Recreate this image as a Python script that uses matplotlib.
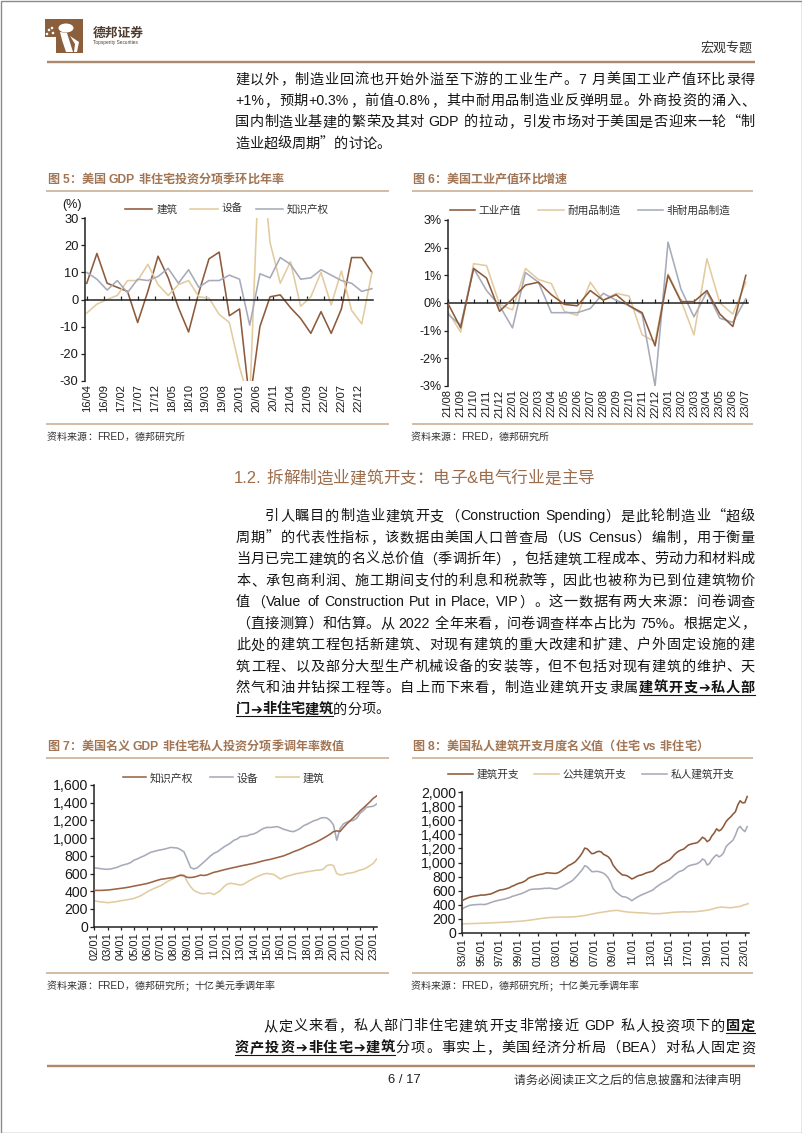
import numpy as np
import matplotlib
matplotlib.use('Agg')
import matplotlib.pyplot as plt
from matplotlib import font_manager
from matplotlib.font_manager import FontProperties
from matplotlib.ft2font import FT2Font, LoadFlags
from matplotlib.patches import Polygon, Ellipse, Rectangle
from matplotlib.lines import Line2D

plt.rcParams['axes.unicode_minus'] = False

W, H = 802, 1133

# ---------------------------------------------------------------- data
# Fig 5: quarterly, 2016Q2 .. 2023Q2 (x in months since 16/04)
f5_labels = ['16/04', '16/09', '17/02', '17/07', '17/12', '18/05', '18/10', '19/03',
             '19/08', '20/01', '20/06', '20/11', '21/04', '21/09', '22/02', '22/07', '22/12']
f5_construction = [6, 17, 6, 4.5, 3, -8.5, 3, 16, 8, -3, -12, 2.5, 15, 17.5, -6, -3.5,
                   -38, -10, 1, 1.7, -3, -7, -12.5, -4.5, -12.5, -3.5, 15.5, 15.5, 10]
f5_equipment = [-5, -1.7, 0, 1.5, 7, 7, 13, 5.5, 1.5, 5.5, 7, 1, 0.5, -5.5, -8.5, -25,
                -38, 60, 21, 6, 14, -2.5, 1, 10, -2, 10.5, -4, -9, 10]
f5_ipp = [10, 7.5, 3.5, 7, 2.5, 7.5, 7, 8.5, 11.5, 6, 11, 4.5, 7, 7, 9, 7.5,
          -9.5, 9.5, 8, 15.5, 13, 7.5, 8, 11, 9, 7, 6, 3, 4]

# Fig 6: monthly 21/08 .. 23/07, % m/m
f6_labels = ['21/08', '21/09', '21/10', '21/11', '21/12', '22/01', '22/02', '22/03',
             '22/04', '22/05', '22/06', '22/07', '22/08', '22/09', '22/10', '22/11',
             '22/12', '23/01', '23/02', '23/03', '23/04', '23/05', '23/06', '23/07']
f6_ip = [0.0, -0.9, 1.25, 0.9, -0.3, 0.15, 0.65, 0.75, 0.3, -0.05, -0.1, 0.45,
         0.1, 0.3, -0.1, -0.35, -1.55, 1.0, 0.05, 0.05, 0.45, -0.4, -0.85, 1.0]
f6_durable = [-0.3, -1.05, 1.42, 1.35, -0.05, -0.25, 1.25, 0.85, 0.7, -0.3, -0.45, 0.75,
              0.1, 0.35, 0.25, -1.15, -1.4, 1.05, 0.1, -1.15, 1.6, 0.0, -0.4, 0.75]
f6_nondurable = [-0.4, -0.8, 1.25, 0.45, -0.1, -0.9, 1.1, 0.75, -0.35, -0.35, -0.35, -0.2,
                 0.35, 0.1, -0.1, -0.4, -3.0, 2.2, 0.5, -0.5, 0.4, -0.55, -0.7, 0.15]

# Fig 7: quarterly 2002Q1 .. 2023Q2, bn USD SAAR
f7_labels = ['02/01', '03/01', '04/01', '05/01', '06/01', '07/01', '08/01', '09/01',
             '10/01', '11/01', '12/01', '13/01', '14/01', '15/01', '16/01', '17/01',
             '18/01', '19/01', '20/01', '21/01', '22/01', '23/01']
f7_ipp = [410, 410, 410, 412, 414, 418, 423, 428, 433, 438, 444, 451,
          459, 466, 473, 481, 489, 500, 512, 524, 535, 540, 546, 552,
          557, 570, 580, 575, 557, 555, 560, 570, 583, 578, 585, 600,
          614, 622, 632, 642, 651, 660, 668, 676, 685, 693, 700, 708,
          715, 725, 735, 745, 753, 760, 770, 780, 790, 800, 815, 830,
          847, 860, 875, 892, 911, 925, 942, 960, 979, 1000, 1022, 1045,
          1073, 1082, 1075, 1120, 1160, 1195, 1230, 1268, 1306, 1340, 1375, 1410,
          1450, 1476]
f7_equipment = [666, 660, 655, 650, 648, 652, 662, 672, 689, 700, 710, 725,
                753, 765, 785, 800, 820, 840, 850, 860, 868, 875, 885, 895,
                892, 888, 870, 845, 760, 668, 652, 665, 697, 730, 765, 800,
                828, 845, 872, 900, 922, 945, 975, 990, 1017, 1020, 1025, 1040,
                1047, 1065, 1090, 1110, 1122, 1120, 1125, 1130, 1118, 1100, 1090, 1078,
                1073, 1090, 1110, 1140, 1156, 1175, 1195, 1205, 1224, 1232, 1228, 1200,
                1150, 975, 1110, 1160, 1180, 1195, 1200, 1225, 1280, 1310, 1350, 1355,
                1360, 1385]
f7_structures = [294, 285, 280, 276, 271, 275, 280, 286, 294, 298, 305, 312,
                 320, 335, 350, 372, 395, 415, 432, 448, 463, 485, 510, 530,
                 546, 570, 590, 582, 508, 450, 410, 390, 376, 372, 378, 380,
                 362, 385, 410, 450, 480, 490, 485, 478, 470, 480, 505, 525,
                 546, 565, 580, 595, 602, 595, 590, 565, 538, 555, 570, 580,
                 591, 600, 605, 612, 621, 625, 632, 638, 640, 650, 690, 700,
                 690, 600, 585, 588, 602, 605, 612, 625, 640, 648, 665, 690,
                 715, 764]

# Fig 8: total & private quarterly 1993Q1 .. 2023Q2, public semi-annual
f8_labels = ['93/01', '95/01', '97/01', '99/01', '01/01', '03/01', '05/01', '07/01',
             '09/01', '11/01', '13/01', '15/01', '17/01', '19/01', '21/01', '23/01']
f8_total = [456, 475, 490, 505, 513, 520, 525, 530, 537, 535, 540, 546,
            551, 565, 580, 595, 608, 612, 620, 630, 641, 660, 672, 690,
            703, 712, 725, 745, 774, 790, 800, 812, 822, 830, 835, 845,
            855, 850, 848, 845, 846, 860, 880, 905, 926, 955, 970, 990,
            1012, 1050, 1090, 1140, 1205, 1195, 1160, 1125, 1131, 1150, 1160, 1150,
            1116, 1100, 1080, 1040, 964, 920, 880, 850, 822, 820, 810, 790,
            765, 780, 800, 815, 822, 835, 850, 860, 869, 880, 910, 940,
            964, 985, 1000, 1020, 1036, 1070, 1110, 1140, 1164, 1180, 1190, 1220,
            1249, 1260, 1270, 1275, 1287, 1320, 1360, 1340, 1297, 1320, 1380, 1420,
            1480, 1450, 1470, 1520, 1582, 1620, 1650, 1690, 1724, 1820, 1880, 1850,
            1853, 1940]
f8_private = [337, 360, 375, 388, 394, 398, 400, 402, 404, 400, 405, 415,
              428, 440, 450, 458, 466, 472, 480, 490, 499, 515, 525, 535,
              546, 555, 570, 585, 603, 615, 620, 622, 622, 625, 628, 632,
              632, 635, 630, 625, 622, 635, 650, 670, 689, 710, 725, 750,
              784, 820, 860, 900, 955, 940, 905, 870, 869, 875, 870, 860,
              846, 820, 780, 720, 632, 590, 560, 535, 513, 510, 500, 480,
              456, 480, 500, 520, 537, 550, 565, 580, 594, 610, 640, 665,
              689, 710, 725, 745, 765, 790, 820, 845, 869, 880, 895, 925,
              950, 960, 970, 975, 988, 1010, 1050, 1030, 964, 985, 1040, 1080,
              1110, 1080, 1100, 1140, 1226, 1260, 1290, 1320, 1390, 1480, 1515, 1470,
              1440, 1510]
f8_public = [125, 128, 130, 132, 135, 138, 140, 143, 146, 150, 153, 158,
             162, 168, 175, 185, 195, 205, 212, 218, 220, 222, 222, 224,
             228, 235, 245, 258, 272, 285, 295, 305, 315, 318, 305, 295,
             290, 285, 283, 280, 272, 270, 272, 278, 285, 292, 295, 298,
             296, 298, 303, 310, 320, 335, 355, 365, 360, 355, 365, 375,
             400, 418]

# ---------------------------------------------------------------- fonts
CJK = 'Noto Sans CJK SC'
LAT = 'Liberation Sans'
SYM = 'DejaVu Sans'
_fc = {}


def _ft(fam, bold):
    key = (fam, bold)
    if key not in _fc:
        path = font_manager.findfont(FontProperties(family=fam, weight='bold' if bold else 'normal'))
        _fc[key] = FT2Font(path)
    return _fc[key]


ARROW = '➔'
try:
    if _ft(SYM, False).get_char_index(ord(ARROW)) == 0:
        ARROW = '→'
except Exception:
    ARROW = '→'


def fam_of(ch):
    if ord(ch) < 128:
        return LAT
    if ch == '➔':
        return SYM
    return CJK


def adv(ch, bold, size):
    fam = fam_of(ch)
    b = bold and fam != SYM
    f = _ft(fam, b)
    g = f.load_char(ord(ch), flags=LoadFlags.NO_SCALE)
    return g.horiAdvance / f.units_per_EM * size * 100 / 72


def tokenize(segments):
    toks = []
    for text, bold, ul in segments:
        text = text.replace('➔', ARROW)
        i = 0
        while i < len(text):
            ch = text[i]
            if ord(ch) < 128 and ch != ' ':
                j = i
                while j < len(text) and ord(text[j]) < 128 and text[j] != ' ':
                    j += 1
                toks.append((text[i:j], bold, ul))
                i = j
            else:
                toks.append((ch, bold, ul))
                i += 1
    return toks


fig = plt.figure(figsize=(W / 100, H / 100), dpi=100)
fig.patch.set_facecolor('white')
bg = fig.add_axes([0, 0, 1, 1])
bg.set_xlim(0, W)
bg.set_ylim(H, 0)
bg.axis('off')


def draw_line(segments, x0, x1, yc, size, color, justify=True):
    toks = tokenize(segments)
    widths = [sum(adv(c, b, size) for c in t) for t, b, u in toks]
    gap = 0
    if justify and len(toks) > 1:
        gap = (x1 - x0 - sum(widths)) / (len(toks) - 1)
    em = size * 100 / 72
    base = yc + 0.38 * em
    x = x0
    ul_start = None
    ul_end = None
    runs = []
    for (t, b, u), w in zip(toks, widths):
        if t != ' ':
            fam = fam_of(t[0])
            bg.text(x, base, t, fontsize=size, family=fam,
                    weight='bold' if (b and fam != SYM) else 'normal',
                    color=color, ha='left', va='baseline')
        if u:
            if ul_start is None:
                ul_start = x
            ul_end = x + w
        elif ul_start is not None:
            runs.append((ul_start, ul_end))
            ul_start = None
        x += w + gap
    if ul_start is not None:
        runs.append((ul_start, ul_end))
    for a, bb in runs:
        bg.add_line(Line2D([a, bb], [base + 0.2 * em, base + 0.2 * em], color=color, lw=0.8))
    return x


def hline(x0, x1, y, color, lw_px):
    bg.add_line(Line2D([x0, x1], [y, y], color=color, lw=lw_px * 0.72, solid_capstyle='butt'))


BODY = 10.2
TXT = '#151515'
CAP = '#a27655'
RULE = '#c9ad92'

# page frame
bg.add_patch(Rectangle((0.5, 0.5), W - 1, H - 1, fill=False, edgecolor='#8a8a8a', lw=1.0))

# ---------------------------------------------------------------- header
LOGO = '#8b5e3c'
bg.add_patch(Polygon([(45, 19), (83, 19), (83, 53), (56, 53), (56, 37), (45, 37)],
                     closed=True, facecolor=LOGO, edgecolor='none'))
bg.add_patch(Ellipse((66, 28), 15, 9, facecolor='white', edgecolor='none'))
bg.add_patch(Polygon([(60, 32), (67, 33), (73, 52), (66, 52), (62, 40)], closed=True,
                     facecolor='white', edgecolor='none'))
bg.add_patch(Polygon([(70, 36), (79, 42), (77, 52), (74, 52), (75, 44)], closed=True,
                     facecolor='white', edgecolor='none'))
for cx, cy in [(49, 30), (53, 33), (47, 34), (52, 28)]:
    bg.add_patch(Ellipse((cx, cy), 2.6, 2.6, facecolor='white', edgecolor='none'))
bg.text(93, 37, '德邦证券', fontsize=9.2, family=CJK, weight='bold', color='#4f3d30',
        ha='left', va='baseline')
bg.text(93, 44, 'Topsperity Securities', fontsize=3.4, family=LAT, color='#4f3d30',
        ha='left', va='baseline')
bg.text(752, 51.5, '宏观专题', fontsize=9.4, family=CJK, color='#333333',
        ha='right', va='baseline')
hline(47, 755, 62, '#a98a6c', 2.4)

# ---------------------------------------------------------------- top paragraph
top_lines = [
    ("建以外，制造业回流也开始外溢至下游的工业生产。7 月美国工业产值环比录得", True),
    ("+1%，预期+0.3%，前值-0.8%，其中耐用品制造业反弹明显。外商投资的涌入、", True),
    ("国内制造业基建的繁荣及其对 GDP 的拉动，引发市场对于美国是否迎来一轮“制", True),
    ("造业超级周期”的讨论。", False),
]
for i, (t, j) in enumerate(top_lines):
    draw_line([(t, False, False)], 235, 755, 78.3 + i * 21.3, BODY, TXT, justify=j)

# ---------------------------------------------------------------- chart captions
CAPS = 8.7
draw_line([("图 5：美国 GDP 非住宅投资分项季环比年率", True, False)], 47, None, 178, CAPS, CAP, False)
draw_line([("图 6：美国工业产值环比增速", True, False)], 412, None, 178, CAPS, CAP, False)
hline(46, 389, 190.5, RULE, 1.6)
hline(412, 753, 190.5, RULE, 1.6)
hline(46, 389, 424, RULE, 1.6)
hline(412, 753, 424, RULE, 1.6)
draw_line([("资料来源：FRED，德邦研究所", False, False)], 47, None, 436.5, 7.2, '#333333', False)
draw_line([("资料来源：FRED，德邦研究所", False, False)], 411, None, 436.5, 7.2, '#333333', False)

draw_line([("1.2. 拆解制造业建筑开支：电子&电气行业是主导", False, False)], 234, None, 477, 12,
          '#9c6d4b', False)

# ---------------------------------------------------------------- main paragraph
para = [
    ([("引人瞩目的制造业建筑开支（Construction Spending）是此轮制造业“超级", False, False)], 265, True),
    ([("周期”的代表性指标，该数据由美国人口普查局（US Census）编制，用于衡量", False, False)], 236, True),
    ([("当月已完工建筑的名义总价值（季调折年），包括建筑工程成本、劳动力和材料成", False, False)], 236, True),
    ([("本、承包商利润、施工期间支付的利息和税款等，因此也被称为已到位建筑物价", False, False)], 236, True),
    ([("值（Value of Construction Put in Place, VIP）。这一数据有两大来源：问卷调查", False, False)], 236, True),
    ([("（直接测算）和估算。从 2022 全年来看，问卷调查样本占比为 75%。根据定义，", False, False)], 236, True),
    ([("此处的建筑工程包括新建筑、对现有建筑的重大改建和扩建、户外固定设施的建", False, False)], 236, True),
    ([("筑工程、以及部分大型生产机械设备的安装等，但不包括对现有建筑的维护、天", False, False)], 236, True),
    ([("然气和油井钻探工程等。自上而下来看，制造业建筑开支隶属", False, False),
      ("建筑开支➔私人部", True, True)], 236, True),
    ([("门➔非住宅建筑", True, True), ("的分项。", False, False)], 236, False),
]
for i, (segs, x0, j) in enumerate(para):
    draw_line(segs, x0, 755, 515 + i * 21.45, BODY, TXT, justify=j)

# ---------------------------------------------------------------- lower captions
draw_line([("图 7：美国名义 GDP 非住宅私人投资分项季调年率数值", True, False)], 47, None, 745, CAPS, CAP, False)
draw_line([("图 8：美国私人建筑开支月度名义值（住宅 vs 非住宅）", True, False)], 412, None, 745, CAPS, CAP, False)
hline(46, 389, 757.5, RULE, 1.6)
hline(412, 753, 757.5, RULE, 1.6)
hline(46, 389, 973, RULE, 1.6)
hline(412, 753, 973, RULE, 1.6)
draw_line([("资料来源：FRED，德邦研究所；十亿美元季调年率", False, False)], 47, None, 985.5, 7.2, '#333333', False)
draw_line([("资料来源：FRED，德邦研究所；十亿美元季调年率", False, False)], 411, None, 985.5, 7.2, '#333333', False)

# ---------------------------------------------------------------- footer
draw_line([("从定义来看，私人部门非住宅建筑开支非常接近 GDP 私人投资项下的", False, False),
           ("固定", True, True)], 263, 755, 1025, BODY, TXT, True)
draw_line([("资产投资➔非住宅➔建筑", True, True),
           ("分项。事实上，美国经济分析局（BEA）对私人固定资", False, False)], 235, 755, 1046.7, BODY, TXT, True)
hline(47, 755, 1066, '#a98a6c', 2.4)
bg.text(404, 1083, '6 / 17', fontsize=9.4, family=LAT, color='#222222', ha='center', va='baseline')
draw_line([("请务必阅读正文之后的信息披露和法律声明", False, False)], 514, None, 1079, 8.6, '#333333', False)


# ---------------------------------------------------------------- charts
def px_axes(l, t, r, b):
    a = fig.add_axes([l / W, 1 - b / H, (r - l) / W, (b - t) / H])
    a.set_facecolor('none')
    return a


def style_axes(a, ysize, zero_axis, pad_pt=2.0):
    for s in ['top', 'right']:
        a.spines[s].set_visible(False)
    a.spines['left'].set_color('#222222')
    a.spines['left'].set_linewidth(1.1)
    a.spines['bottom'].set_color('#222222')
    a.spines['bottom'].set_linewidth(1.1)
    a.tick_params(axis='y', direction='out', length=3, width=0.9, colors='#222222', pad=1.5,
                  labelsize=ysize)
    if zero_axis:
        a.spines['bottom'].set_position(('data', 0))
        a.tick_params(axis='x', direction='in', length=3, width=0.9, colors='#222222',
                      pad=pad_pt, labelsize=8)
    else:
        a.tick_params(axis='x', direction='out', length=2.5, width=0.9, colors='#222222',
                      pad=1.5, labelsize=8)
    for lab in a.get_xticklabels():
        lab.set_rotation(90)
        lab.set_fontfamily(LAT)
        lab.set_color('#1a1a1a')
    for lab in a.get_yticklabels():
        lab.set_fontfamily(LAT)
        lab.set_color('#1a1a1a')


def add_legend(a, x, y, size, hl, cs):
    a.legend(loc='center left', bbox_to_anchor=(x, y), bbox_transform=bg.transData,
             ncol=3, frameon=False, prop=FontProperties(family=CJK, size=size),
             handlelength=hl, handletextpad=0.35, columnspacing=cs,
             borderpad=0, borderaxespad=0, labelcolor='#333333')


BROWN = '#8d5a3b'
TAN = '#e2cb9f'
GRAY = '#a7abb9'
LW = 1.15

# Fig 5
ax5 = px_axes(84.7, 218.3, 373.3, 380.7)
x5 = np.arange(len(f5_construction)) * 3
ax5.plot(x5, f5_construction, color=BROWN, lw=LW, label='建筑')
ax5.plot(x5, f5_equipment, color=TAN, lw=LW, label='设备')
ax5.plot(x5, f5_ipp, color=GRAY, lw=LW, label='知识产权')
ax5.set_xlim(-0.6, 84.4)
ax5.set_ylim(-30, 30)
ax5.set_yticks(np.arange(-30, 31, 10))
ax5.set_yticklabels([str(v) for v in np.arange(-30, 31, 10)])
ax5.set_xticks(np.arange(0, 81, 5))
ax5.set_xticklabels(f5_labels)
pad5 = (380.7 - (218.3 + 380.7) / 2) * 0.72 + 2.5
style_axes(ax5, 9.3, True, pad5)
add_legend(ax5, 125, 209, 7.6, 2.6, 1.25)
bg.text(62, 208, '(%)', fontsize=9, family=LAT, color='#1a1a1a', ha='left', va='baseline')

# Fig 6
ax6 = px_axes(447.7, 220, 748, 386)
x6 = np.arange(len(f6_ip))
ax6.plot(x6, f6_ip, color=BROWN, lw=LW, label='工业产值', zorder=3)
ax6.plot(x6, f6_durable, color=TAN, lw=LW, label='耐用品制造', zorder=2)
ax6.plot(x6, f6_nondurable, color=GRAY, lw=LW, label='非耐用品制造', zorder=2)
ax6.set_xlim(0, 23.17)
ax6.set_ylim(-3, 3)
ax6.set_yticks(np.arange(-3, 4, 1))
ax6.set_yticklabels([f'{v}%' for v in np.arange(-3, 4, 1)])
ax6.set_xticks(x6)
ax6.set_xticklabels(f6_labels)
pad6 = (386 - (220 + 386) / 2) * 0.72 + 2.5
style_axes(ax6, 9.0, True, pad6)
add_legend(ax6, 450, 211, 7.7, 2.35, 1.6)

# Fig 7
ax7 = px_axes(94.3, 785, 377, 926.7)
x7 = np.arange(len(f7_ipp)) * 0.25
ax7.plot(x7, f7_ipp, color='#9b6446', lw=LW, label='知识产权', zorder=3)
ax7.plot(x7, f7_equipment, color=GRAY, lw=LW, label='设备', zorder=2)
ax7.plot(x7, f7_structures, color=TAN, lw=LW, label='建筑', zorder=2)
ax7.set_xlim(0, 21.28)
ax7.set_ylim(0, 1600)
ax7.set_yticks(np.arange(0, 1601, 200))
ax7.set_yticklabels([f'{v:,}' for v in np.arange(0, 1601, 200)])
ax7.set_xticks(np.arange(len(f7_labels)))
ax7.set_xticklabels(f7_labels)
style_axes(ax7, 10.2, False)
add_legend(ax7, 123, 778, 7.8, 2.1, 1.6)

# Fig 8
ax8 = px_axes(462.3, 792.3, 749, 932.7)
x8 = np.arange(len(f8_total)) * 0.25
x8p = np.arange(len(f8_public)) * 0.5
ax8.plot(x8, f8_total, color=BROWN, lw=LW, label='建筑开支', zorder=3)
ax8.plot(x8p, f8_public, color=TAN, lw=LW, label='公共建筑开支', zorder=2)
ax8.plot(x8, f8_private, color=GRAY, lw=LW, label='私人建筑开支', zorder=2)
ax8.set_xlim(0, 30.44)
ax8.set_ylim(0, 2000)
ax8.set_yticks(np.arange(0, 2001, 200))
ax8.set_yticklabels([f'{v:,}' for v in np.arange(0, 2001, 200)])
ax8.set_xticks(np.arange(0, 31, 2))
ax8.set_xticklabels(f8_labels)
style_axes(ax8, 10.2, False)
add_legend(ax8, 448, 775, 7.7, 2.3, 1.45)

fig.savefig('out.png', dpi=100)
